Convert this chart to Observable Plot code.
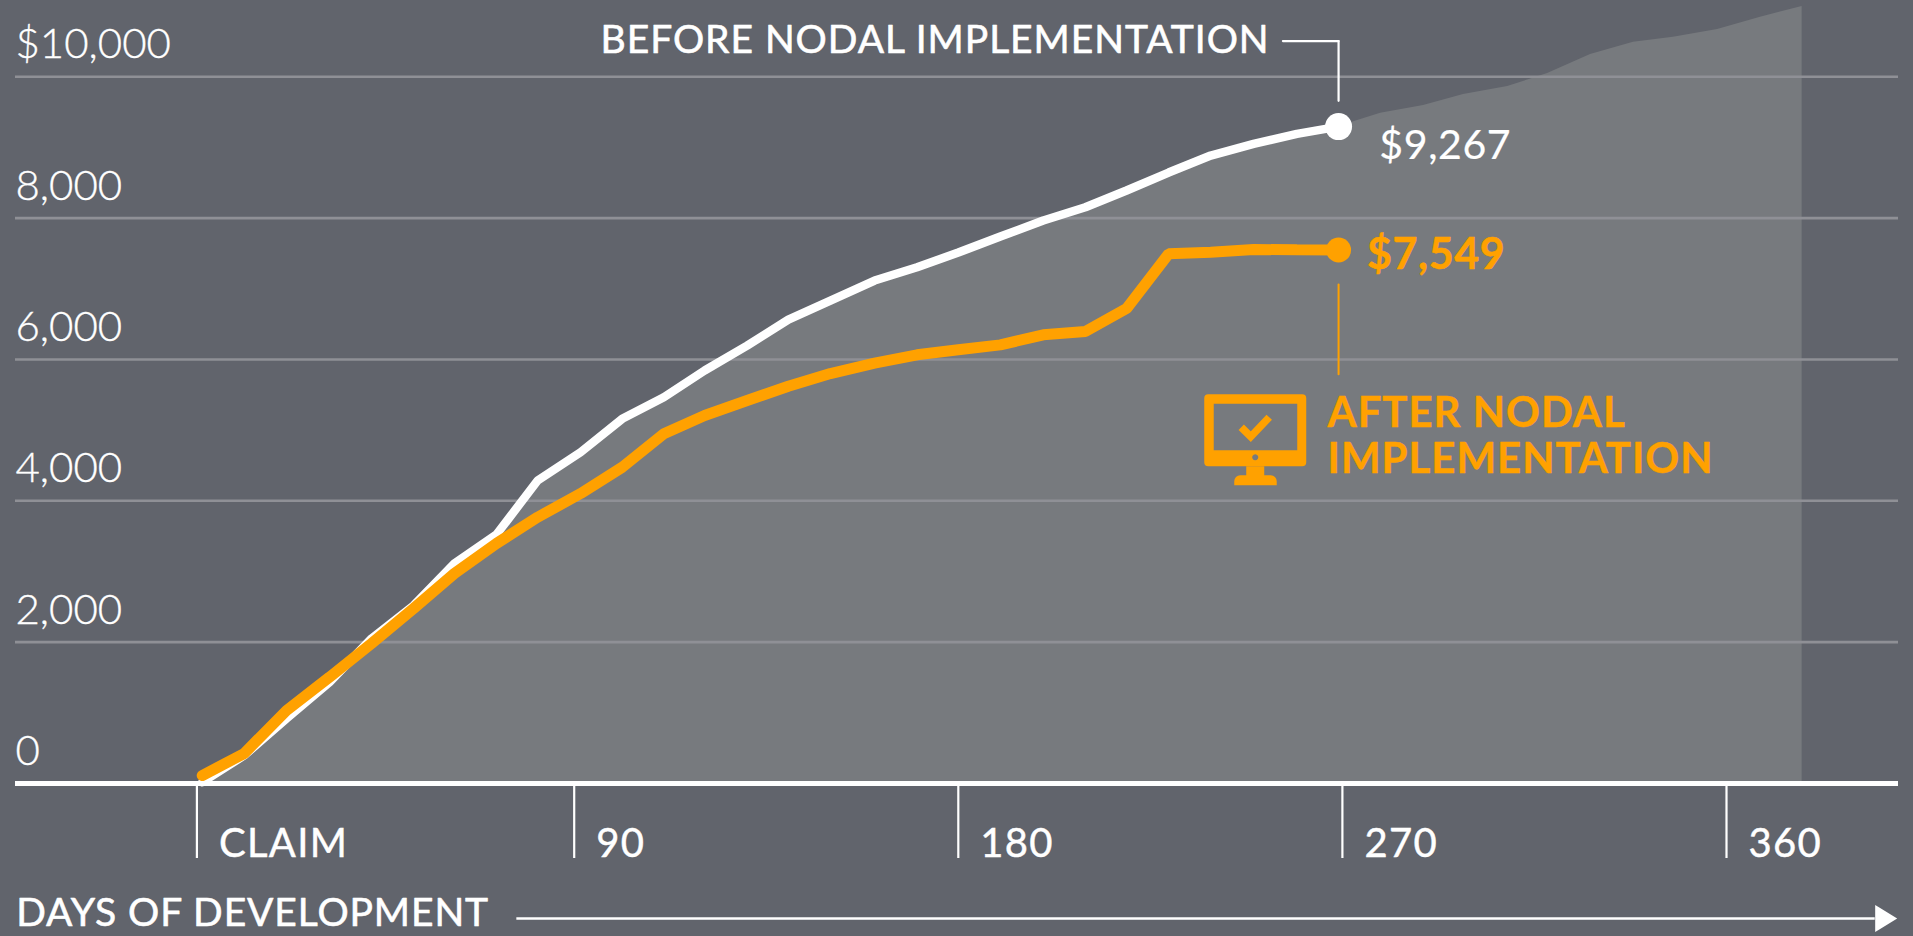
<!DOCTYPE html>
<html><head><meta charset="utf-8">
<script src="https://cdn.jsdelivr.net/npm/d3@7"></script>
<script src="https://cdn.jsdelivr.net/npm/@observablehq/plot@0.6"></script>
<style>
html,body{margin:0;padding:0;background:#61646c;overflow:hidden}
svg{display:block}
.ya text{stroke:#fff;stroke-width:.35}
.xa text{stroke:#fff;stroke-width:.45;letter-spacing:1.3px}
.caps text{letter-spacing:.95px}
.days text{letter-spacing:.9px}
.num text{letter-spacing:.6px}
</style></head><body><div id="chart"></div>
<script>
const days = [1.25,11.1,21.1,31.2,41.1,51,60.6,70.5,80.2,90.3,100.1,109.9,119.5,129.5,139.2,149.1,159.5,169.5,179.2,189.1,199.2,209.1,218.8,228.7,238.6,248.7,258.9,268.7];
const before = [18,396,920,1433,2052,2519,3113,3523,4287,4688,5160,5466,5844,6197,6565,6834,7117,7305,7513,7740,7966,8154,8391,8645,8886,9051,9193,9295];
const after = [113,424,1033,1504,1981,2476,2971,3396,3768,4103,4475,4948,5207,5419,5622,5801,5947,6066,6137,6207,6349,6395,6721,7495,7518,7556,7552,7549];
const laterDays = [278.6,288.7,298.1,308.5,317.9,328,338.1,347.5,357.9,368,377.8];
const laterBefore = [9484,9593,9749,9862,10046,10315,10489,10560,10668,10843,10994];
const yTicks = [0,2000,4000,6000,8000,10000];
const yLabels = ["0","2,000","4,000","6,000","8,000","$10,000"];
const xTicks = [0,88.8,179.2,269.6,360];
const xLabels = ["CLAIM","90","180","270","360"];

const rows = (xs, ys) => xs.map((x, i) => ({x, y: ys[i]}));
const beforeRows = rows(days, before);
const afterRows = rows(days, after);
const areaRows = beforeRows.concat(rows(laterDays, laterBefore));
const lastDay = days[days.length - 1];

const ORANGE = "#ffa100", FONT = "Lato, sans-serif";
const label = (text, x, y, fill, size, weight, strokeWidth, className) =>
  Plot.text([text], {x: () => x, y: () => y, text: d => d, fill, stroke: fill, strokeWidth, fontSize: size, fontWeight: weight,
    fontFamily: FONT, textAnchor: "start", lineAnchor: "bottom", className});

// monitor icon, placed from its data-space anchor
const monitor = (index, scales) => {
  const ox = scales.x(237.2), oy = scales.y(5501);
  const g = d3.create("svg:g").attr("transform", `translate(${ox},${oy})`).attr("fill", ORANGE);
  g.append("path").attr("fill-rule", "evenodd").attr("d",
    "M4 0H98a4 4 0 0 1 4 4V68a4 4 0 0 1-4 4H4a4 4 0 0 1-4-4V4a4 4 0 0 1 4-4Z" +
    "M9.5 9.5V56H93V9.5ZM51 60a3 3 0 1 0 .01 0Z");
  g.append("path").attr("d", "M42 72H60V81H66.5a6 6 0 0 1 6 6V91H30V87a6 6 0 0 1 6-6H42Z");
  g.append("path").attr("fill", "none").attr("stroke", ORANGE).attr("stroke-width", 7.5)
    .attr("d", "M37 33L46.5 42.5L65 23");
  return g.node();
};

const chart = Plot.plot({
  width: 1913, height: 936,
  marginLeft: 15, marginRight: 15, marginTop: 0, marginBottom: 153,
  style: {background: "transparent", overflow: "visible"},
  x: {domain: [0, 360], range: [196.4, 1726], label: null},
  y: {domain: [0, 10000], range: [783, 76.3], label: null},
  marks: [
    Plot.areaY(areaRows, {x: "x", y: "y", fill: "#777a7e"}),
    Plot.ruleY(yTicks.slice(1), {stroke: "#8f9096", strokeWidth: 2.6}),
    Plot.axisY(yTicks, {anchor: "left", tickSize: 0, tickPadding: 0, textAnchor: "start", lineAnchor: "bottom",
      dy: -18.5, label: null, tickFormat: d => yLabels[yTicks.indexOf(d)], fill: "white",
      fontSize: 42, fontWeight: 300, fontFamily: FONT, className: "ya"}),
    Plot.axisX(xTicks, {anchor: "bottom", tickSize: 75, text: null, label: null, stroke: "white", strokeWidth: 2.2}),
    Plot.axisX(xTicks, {anchor: "bottom", tickSize: 0, tickPadding: 73, textAnchor: "start", lineAnchor: "bottom",
      dx: 22, label: null, tickFormat: d => xLabels[xTicks.indexOf(d)], fill: "white",
      fontSize: 40, fontWeight: 400, fontFamily: FONT, className: "xa"}),
    // before line + leader
    Plot.line([[lastDay, 9660], [lastDay, 10505]], {x: "0", y: "1", stroke: "white", strokeWidth: 2.2}),
    Plot.line([[255.6, 10505], [lastDay, 10505]], {x: "0", y: "1", stroke: "white", strokeWidth: 2.2}),
    Plot.lineY(beforeRows, {x: "x", y: "y", stroke: "white", strokeWidth: 8.5, strokeLinejoin: "miter"}),
    Plot.dot([beforeRows[beforeRows.length - 1]], {x: "x", y: "y", r: 13.5, fill: "white"}),
    // after line + leader
    Plot.line([[lastDay, 7060], [lastDay, 5790]], {x: "0", y: "1", stroke: ORANGE, strokeWidth: 2}),
    Plot.lineY(afterRows, {x: "x", y: "y", stroke: ORANGE, strokeWidth: 11, strokeLinecap: "round", strokeLinejoin: "miter"}),
    Plot.dot([afterRows[afterRows.length - 1]], {x: "x", y: "y", r: 12.5, fill: ORANGE}),
    // axis baseline
    Plot.ruleY([0], {stroke: "white", strokeWidth: 5}),
    // annotations
    label("BEFORE NODAL IMPLEMENTATION", 95, 10330, "white", 39, 400, 0.6, "caps"),
    label("$9,267", 278.3, 8842, "white", 41, 400, 0.2, "num"),
    label("$7,549", 275.4, 7277, ORANGE, 43, 700, 0.5, "num"),
    label("AFTER NODAL", 266.1, 5040, ORANGE, 42, 700, 0.4, "caps"),
    label("IMPLEMENTATION", 266.1, 4390, ORANGE, 42, 700, 0.4, "caps"),
    monitor,
    label("DAYS OF DEVELOPMENT", -42.5, -2010, "white", 39, 400, 0.6, "days"),
    Plot.ruleY([-1911], {x1: 75.3, x2: 395, stroke: "white", strokeWidth: 2.5}),
    Plot.dot([[395, -1911]], {x: "0", y: "1", fill: "white", r: 10,
      symbol: {draw(c) {c.moveTo(0, -13.5); c.lineTo(22, 0); c.lineTo(0, 13.5); c.closePath();}}})
  ]
});
document.getElementById("chart").append(chart);
</script></body></html>
